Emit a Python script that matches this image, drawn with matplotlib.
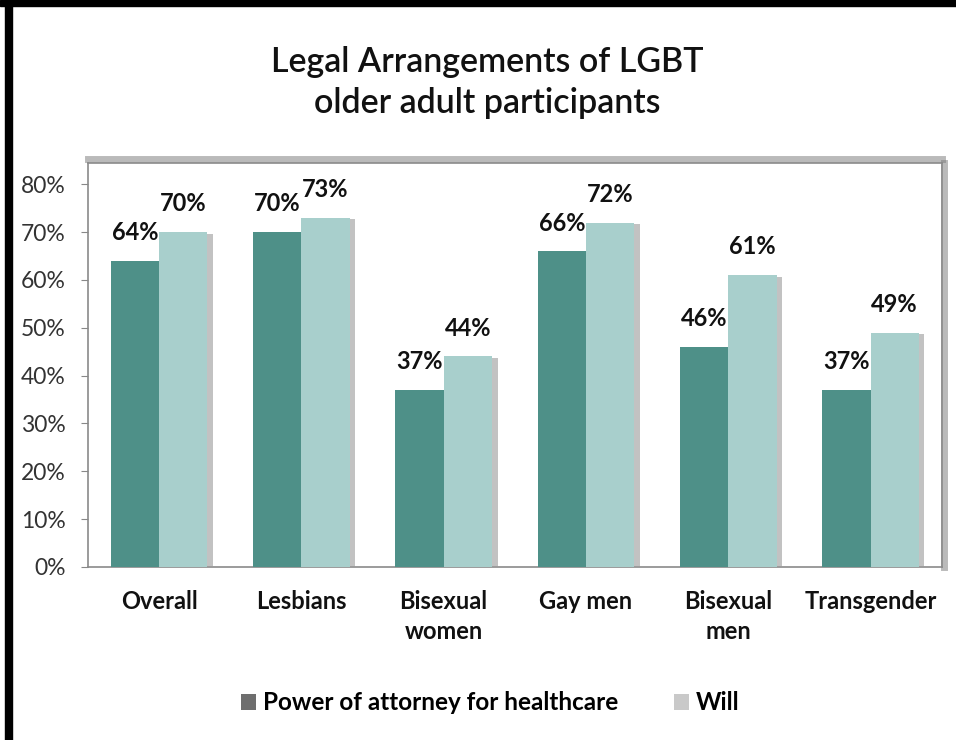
import numpy as np
import matplotlib
matplotlib.use('Agg')
import matplotlib.pyplot as plt
import matplotlib.patheffects as pe
from matplotlib.patches import Patch, Rectangle

plt.rcParams['font.family'] = ['Lato', 'DejaVu Sans']

categories = ["Overall", "Lesbians", "Bisexual\nwomen", "Gay men", "Bisexual\nmen", "Transgender"]
power_attorney = [64, 70, 37, 66, 46, 37]
will = [70, 73, 44, 72, 61, 49]
series_names = ["Power of attorney for healthcare", "Will"]
y_ticks = [0, 10, 20, 30, 40, 50, 60, 70, 80]

DARK = '#4e9088'
LIGHT = '#a8cfcc'

fig = plt.figure(figsize=(9.56, 7.4), dpi=100, facecolor='white')
ax = fig.add_axes([0.092, 0.234, 0.893, 0.546])
ax.set_facecolor('white')

x = np.arange(len(categories))
w = 0.34
shadow = [pe.SimplePatchShadow(offset=(4, -1), shadow_rgbFace='#9a9a9a', alpha=0.6), pe.Normal()]
b1 = ax.bar(x - w / 2, power_attorney, width=w, color=DARK, zorder=3, path_effects=shadow)
b2 = ax.bar(x + w / 2, will, width=w, color=LIGHT, zorder=3, path_effects=shadow)

for bars, vals in ((b1, power_attorney), (b2, will)):
    for r, v in zip(bars, vals):
        ax.annotate(f"{v}%", (r.get_x() + r.get_width() / 2, v), xytext=(0, 12),
                    textcoords='offset points', ha='center', va='bottom',
                    fontsize=17, fontweight='bold', color='#111111', zorder=5)

ax.set_xlim(-0.5, 5.5)
ax.set_ylim(0, 84.5)
ax.set_yticks(y_ticks)
ax.set_yticklabels([f"{t}%" for t in y_ticks], fontsize=16.5, color='#333333')
ax.set_xticks(x)
ax.set_xticklabels(categories, fontsize=17, fontweight='bold', color='#111111', linespacing=1.35)
ax.tick_params(axis='x', length=0, pad=17)
ax.tick_params(axis='y', direction='out', length=5, color='#888888', pad=11)
for s in ax.spines.values():
    s.set_color('#8a8a8a')
    s.set_linewidth(1.2)
ax.spines['top'].set_path_effects([pe.SimpleLineShadow(offset=(0, 3), shadow_color='#777777', alpha=0.5, linewidth=5), pe.Normal()])
ax.spines['right'].set_path_effects([pe.SimpleLineShadow(offset=(2, 0), shadow_color='#777777', alpha=0.5, linewidth=5), pe.Normal()])

fig.text(0.51, 0.889, "Legal Arrangements of LGBT\nolder adult participants", ha='center', va='center',
         fontsize=24.5, fontweight='semibold', color='#111111', linespacing=1.35)

handles = [Patch(facecolor='#6e6e6e'), Patch(facecolor='#c9c9c9')]
fig.legend(handles, series_names, loc='center', bbox_to_anchor=(0.513, 0.05), ncol=2, frameon=False,
           prop={'size': 17.5, 'weight': 'bold'}, handlelength=0.6, handleheight=0.6,
           handletextpad=0.3, columnspacing=2.3)

# black frame on top and left edges
fig.patches.append(Rectangle((0, 0.992), 1, 0.008, transform=fig.transFigure, color='black'))
fig.patches.append(Rectangle((0.005, 0), 0.008, 1, transform=fig.transFigure, color='black'))

plt.savefig('out.png', dpi=100)
plt.close()
